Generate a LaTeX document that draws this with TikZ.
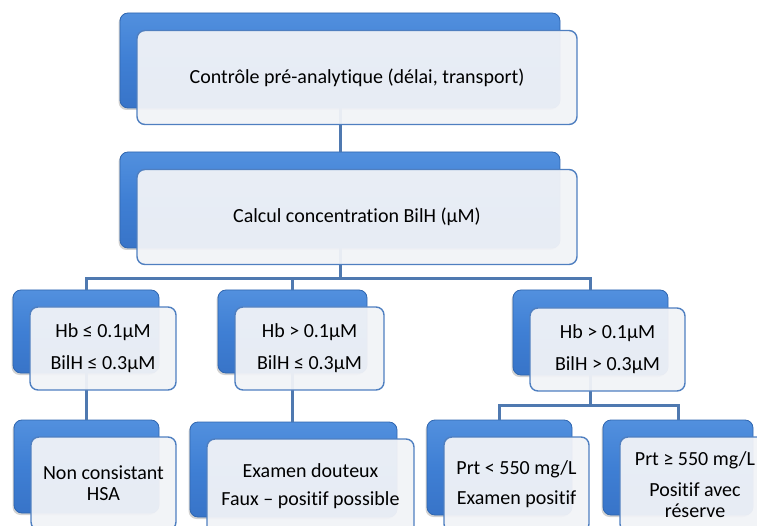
\documentclass[tikz,border=0pt]{standalone}
\usepackage{fontspec}
\setmainfont[Ligatures=NoCommon]{Carlito}
\usetikzlibrary{calc,shadows}
\definecolor{cardblue}{HTML}{3F7FD4}
\definecolor{cardtop}{HTML}{5290DE}
\definecolor{cardbot}{HTML}{3874C8}
\definecolor{cardedge}{HTML}{2F66B0}
\definecolor{paneface}{HTML}{F1F3F7}
\definecolor{paneedge}{HTML}{4F7FC0}
\definecolor{linkblue}{HTML}{4F79B0}

\begin{document}
\begin{tikzpicture}[x=1pt,y=1pt,
  back/.style 2 args={rounded corners=8pt,draw=cardedge,line width=0.8pt,
    top color=cardtop,bottom color=cardbot,middle color=cardblue,
    drop shadow={shadow xshift=-1.5pt,shadow yshift=-2pt,opacity=0.35},
    minimum width=#1,minimum height=#2,inner sep=0pt},
  pane/.style 2 args={rounded corners=8pt,draw=paneedge,line width=1.4pt,
    fill=paneface,fill opacity=0.95,text opacity=1,
    minimum width=#1,minimum height=#2,inner sep=0pt,
    xshift=17pt,yshift=-17pt,align=center,font=\fontsize{20}{21}\selectfont},
  link/.style={draw=linkblue,line width=3pt}
]
\useasboundingbox (0,0) rectangle (757,-526);
\clip (0,0) rectangle (757,-526);

% blue cards at the back
\node[back={440pt}{95pt}] (pre) at (340,-60.5) {};
\node[back={440pt}{96pt}] (calc) at (340,-200) {};
\node[back={146pt}{83pt}] (lowH) at (86,-331.5) {};
\node[back={149pt}{83pt}] (midH) at (292.5,-331.5) {};
\node[back={155pt}{85pt}] (highH) at (590.5,-332.5) {};
\node[back={145pt}{93pt}] (nonHSA) at (86.5,-466.5) {};
\node[back={207pt}{95pt}] (doubt) at (293.5,-469.5) {};
\node[back={145pt}{95pt}] (posit) at (499.5,-467.5) {};
\node[back={150pt}{95pt}] (reserve) at (678,-467.5) {};

% tree links
\draw[link] (pre.south) -- (calc.north);
\draw[link] (calc.south) -- ++(0,-30) -| (lowH.north);
\draw[link] (calc.south) -- ++(0,-30) -| (midH.north);
\draw[link] (calc.south) -- ++(0,-30) -| (highH.north);
\draw[link] (lowH.south) -- (lowH.south |- nonHSA.north);
\draw[link] (midH.south) -- (midH.south |- doubt.north);
\draw[link] (highH.south) -- ++(0,-30) -| (posit.north);
\draw[link] (highH.south) -- ++(0,-30) -| (reserve.north);

% light panes with the text
\node[pane={440pt}{94pt}] (preT) at (pre) {Contrôle pré-analytique (délai, transport)};
\node[pane={440pt}{95pt}] (calcT) at (calc) {Calcul concentration BilH (μM)};
\node[pane={146pt}{83pt}] (lowHT) at (lowH) {Hb ≤ 0.1μM\\[11pt]BilH ≤ 0.3μM};
\node[pane={149pt}{83pt}] (midHT) at (midH) {Hb > 0.1μM\\[11pt]BilH ≤ 0.3μM};
\node[pane={155pt}{83pt}] (highHT) at (highH) {Hb > 0.1μM\\[11pt]BilH > 0.3μM};
\node[pane={145pt}{93pt}] (nonHSAT) at (nonHSA) {Non consistant\\HSA};
\node[pane={207pt}{95pt}] (doubtT) at (doubt) {Examen douteux\\[7pt]Faux – positif possible};
\node[pane={145pt}{95pt}] (positT) at (posit) {Prt < 550 mg/L\\[9pt]Examen positif};
\node[pane={150pt}{95pt}] (reserveT) at (reserve) {Prt ≥ 550 mg/L\\[10pt]Positif avec\\réserve};
\end{tikzpicture}
\end{document}
